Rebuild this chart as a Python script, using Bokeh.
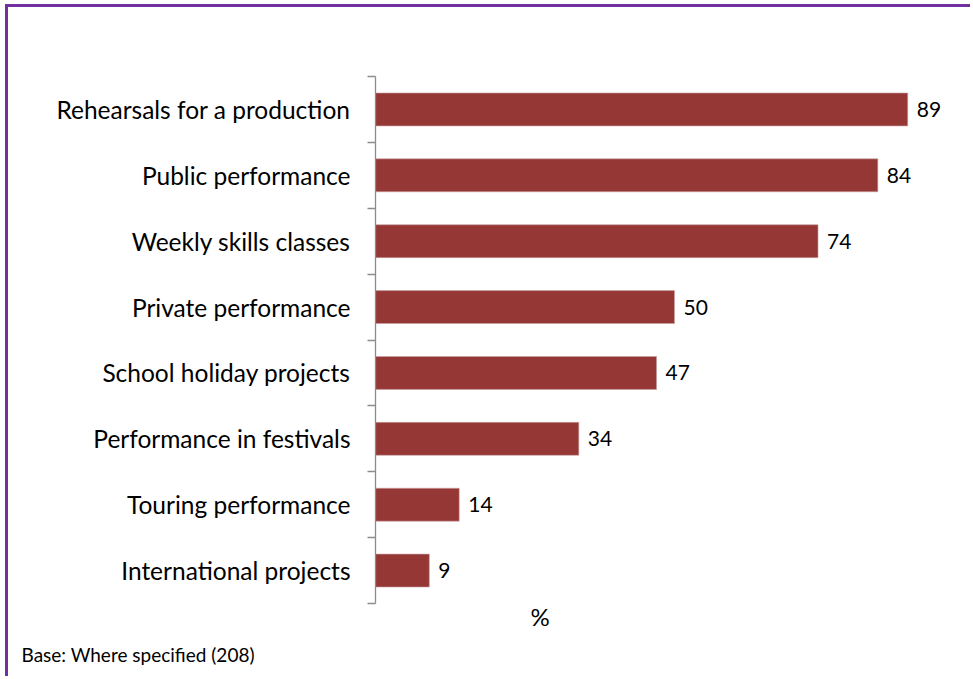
from bokeh.plotting import figure
from bokeh.models import ColumnDataSource, LinearAxis, FixedTicker, Range1d, Title
from bokeh.embed import file_html
from bokeh.resources import INLINE

categories = [
    "Rehearsals for a production",
    "Public performance",
    "Weekly skills classes",
    "Private performance",
    "School holiday projects",
    "Performance in festivals",
    "Touring performance",
    "International projects",
]
values = [89, 84, 74, 50, 47, 34, 14, 9]
x_label = "%"
base_note = "Base: Where specified (208)"

BAR = "#953735"
AXIS = "#8c8c8c"
FONT = "Lato"

n = len(categories)
ypos = [n - i - 0.5 for i in range(n)]
source = ColumnDataSource(dict(y=ypos, v=values, lab=[str(v) for v in values]))

p = figure(width=965, height=672, output_backend="svg", toolbar_location=None,
           x_range=Range1d(0, 100), y_range=Range1d(0, n),
           x_axis_location=None, y_axis_location=None)
p.min_border_left = 367
p.min_border_right = 0
p.min_border_top = 69
p.min_border_bottom = 75
p.outline_line_color = None
p.grid.visible = False
p.background_fill_color = "white"
p.border_fill_color = "white"
p.styles = {"margin-left": "5px", "margin-top": "4px",
            "border-left": "3px solid #7030A0", "border-top": "3px solid #7030A0"}

p.hbar(y="y", right="v", left=0, height=0.5, source=source,
       fill_color=BAR, line_color="#c9a3a2", line_width=0.6)

p.text(x="v", y="y", text="lab", source=source, x_offset=9,
       text_baseline="middle", text_align="left",
       text_font_size="21px", text_font={"value": FONT}, text_color="black")

yaxis = LinearAxis(ticker=FixedTicker(ticks=ypos, minor_ticks=list(range(n + 1))))
yaxis.major_label_overrides = {y: c for y, c in zip(ypos, categories)}
yaxis.major_tick_out = 0
yaxis.major_tick_in = 0
yaxis.minor_tick_out = 8
yaxis.minor_tick_in = 0
yaxis.minor_tick_line_color = AXIS
yaxis.axis_line_color = AXIS
yaxis.axis_line_width = 1.3
yaxis.minor_tick_line_width = 1.3
yaxis.major_label_standoff = 17
yaxis.major_label_text_font = FONT
yaxis.major_label_text_font_size = "24.5px"
yaxis.major_label_text_color = "black"
p.add_layout(yaxis, "left")

p.add_layout(Title(text=x_label, align="left", offset=155, standoff=-8,
                   text_font=FONT, text_font_size="24px", text_font_style="normal",
                   text_color="black"), "below")
p.add_layout(Title(text=base_note, align="left", offset=-354, standoff=28,
                   vertical_align="bottom", text_baseline="bottom",
                   text_font=FONT, text_font_size="19px", text_font_style="normal",
                   text_color="black"), "below")

open("out.html", "w").write(file_html(p, INLINE))
